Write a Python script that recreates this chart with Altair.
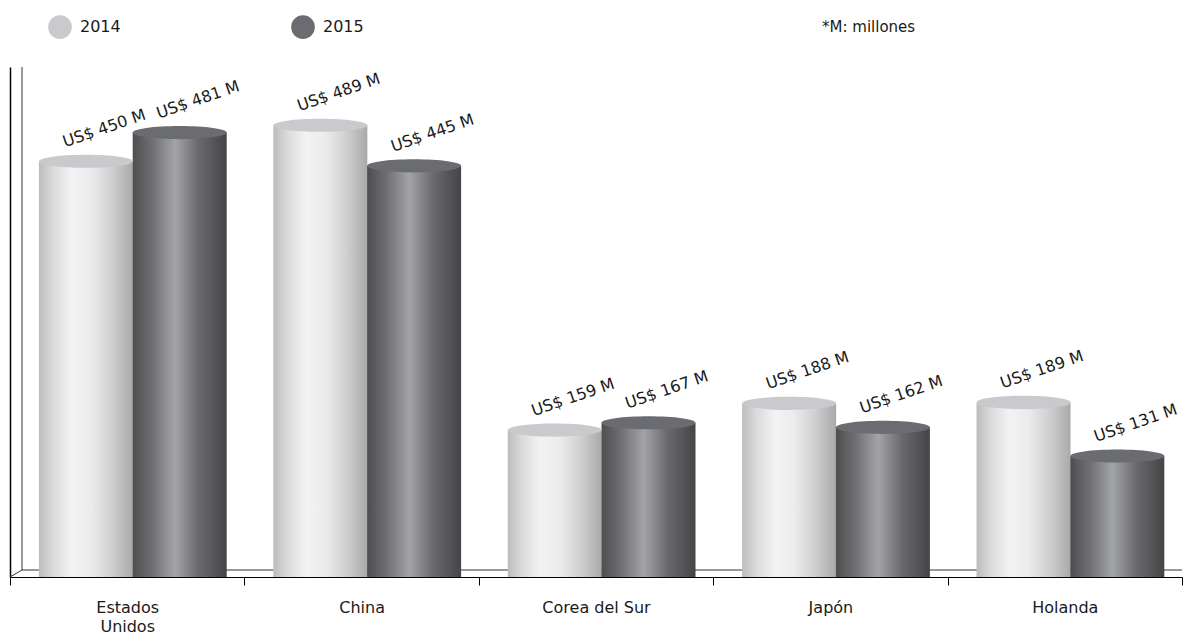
import altair as alt
import pandas as pd

countries = ["Estados Unidos", "China", "Corea del Sur", "Japón", "Holanda"]
values_2014 = [450, 489, 159, 188, 189]
values_2015 = [481, 445, 167, 162, 131]
years = ["2014", "2015"]

rows = []
for c, a, b in zip(countries, values_2014, values_2015):
    rows.append({"pais": c, "anio": "2014", "valor": a, "label": f"US$ {a} M"})
    rows.append({"pais": c, "anio": "2015", "valor": b, "label": f"US$ {b} M"})
df = pd.DataFrame(rows)

W, H = 1172, 510
FONT = "DejaVu Sans"

x_enc = alt.X("pais:N", sort=countries, title=None,
              scale=alt.Scale(paddingInner=0, paddingOuter=0),
              axis=alt.Axis(labelAngle=0, labelFontSize=16, labelFont=FONT, labelColor="#1a1a1a",
                            labelPadding=14, tickBand="extent", tickSize=8, tickColor="#000",
                            domainColor="#000", domainWidth=1.2, labelLineHeight=19,
                            labelExpr="datum.label == 'Estados Unidos' ? ['Estados', 'Unidos'] : datum.label"))
xo_enc = alt.XOffset("anio:N", sort=years,
                     scale=alt.Scale(paddingInner=0, paddingOuter=0.25, align=0.62))
y_scale = alt.Scale(domain=[0, 552], nice=False)
y_enc = alt.Y("valor:Q", scale=y_scale, title=None,
              axis=alt.Axis(labels=False, ticks=False, grid=False, domainColor="#000", domainWidth=1.5))

base = alt.Chart(df)

grad14 = alt.Gradient(gradient="linear", x1=0, x2=1, y1=0, y2=0, stops=[
    alt.GradientStop(color="#bcbcbc", offset=0),
    alt.GradientStop(color="#dadada", offset=0.15),
    alt.GradientStop(color="#f3f3f3", offset=0.35),
    alt.GradientStop(color="#ececec", offset=0.55),
    alt.GradientStop(color="#cfcfcf", offset=0.78),
    alt.GradientStop(color="#a9a9a9", offset=1),
])
grad15 = alt.Gradient(gradient="linear", x1=0, x2=1, y1=0, y2=0, stops=[
    alt.GradientStop(color="#4e4e50", offset=0),
    alt.GradientStop(color="#6e6e70", offset=0.2),
    alt.GradientStop(color="#a3a4a6", offset=0.45),
    alt.GradientStop(color="#6a6a6c", offset=0.7),
    alt.GradientStop(color="#454547", offset=1),
])

ellipse = "M -1 0 A 1 0.14 0 1 1 1 0 A 1 0.14 0 1 1 -1 0 Z"
BAR_W = 94

bars14 = base.transform_filter(alt.datum.anio == "2014").mark_bar(fill=grad14, width=BAR_W).encode(
    x=x_enc, xOffset=xo_enc, y=y_enc, y2=alt.datum(0))
bars15 = base.transform_filter(alt.datum.anio == "2015").mark_bar(fill=grad15, width=BAR_W).encode(
    x=x_enc, xOffset=xo_enc, y=y_enc, y2=alt.datum(0))

bottom14 = base.transform_filter(alt.datum.anio == "2014").mark_point(
    shape=ellipse, size=BAR_W * BAR_W, filled=True, fill=grad14, opacity=1, strokeWidth=0).encode(
    x=x_enc, xOffset=xo_enc, y=alt.Y("base:Q", scale=y_scale)).transform_calculate(base="7")
bottom15 = base.transform_filter(alt.datum.anio == "2015").mark_point(
    shape=ellipse, size=BAR_W * BAR_W, filled=True, fill=grad15, opacity=1, strokeWidth=0).encode(
    x=x_enc, xOffset=xo_enc, y=alt.Y("base:Q", scale=y_scale)).transform_calculate(base="7")

caps = base.mark_point(shape=ellipse, size=BAR_W * BAR_W, filled=True, opacity=1, strokeWidth=0).encode(
    x=x_enc, xOffset=xo_enc, y=y_enc,
    color=alt.Color("anio:N", sort=years, title=None,
                    scale=alt.Scale(domain=years, range=["#c9cacd", "#6b6c71"]),
                    legend=alt.Legend(orient="none", legendX=38, legendY=-52, direction="horizontal",
                                      symbolType="circle", symbolSize=560, symbolStrokeWidth=0,
                                      labelFontSize=16, labelFont=FONT, labelColor="#1a1a1a",
                                      columnPadding=170, labelOffset=8, symbolOpacity=1)))

labels = base.mark_text(font=FONT, fontSize=16, color="#1a1a1a", angle=341, align="center",
                        baseline="middle", dx=28, dy=-25).encode(
    x=x_enc, xOffset=xo_enc, y=y_enc, text="label:N")

note = alt.Chart(pd.DataFrame({"t": ["*M: millones"]})).mark_text(
    font=FONT, fontSize=15, color="#1a1a1a", align="left", baseline="middle").encode(
    x=alt.value(812), y=alt.value(-40), text="t:N")

vline = alt.Chart(pd.DataFrame({"a": [0]})).mark_rule(color="#333", strokeWidth=1).encode(
    x=alt.value(12), y=alt.value(0), y2=alt.value(H - 7))
hline = alt.Chart(pd.DataFrame({"a": [0]})).mark_rule(color="#333", strokeWidth=1).encode(
    x=alt.value(12), x2=alt.value(W), y=alt.value(H - 7))
diag = alt.Chart(pd.DataFrame({"a": [0]})).mark_rule(color="#333", strokeWidth=1).encode(
    x=alt.value(0), x2=alt.value(12), y=alt.value(H), y2=alt.value(H - 7))

chart = alt.layer(vline, hline, diag, bottom14, bottom15, bars14, bars15, caps, labels, note).properties(
    width=W, height=H, autosize=alt.AutoSizeParams(type="none"),
    padding={"left": 2, "top": 59, "right": 2, "bottom": 59}
).configure(background="white").configure_view(stroke=None)

chart.save("out.html", embed_options={"renderer": "svg", "actions": False})
